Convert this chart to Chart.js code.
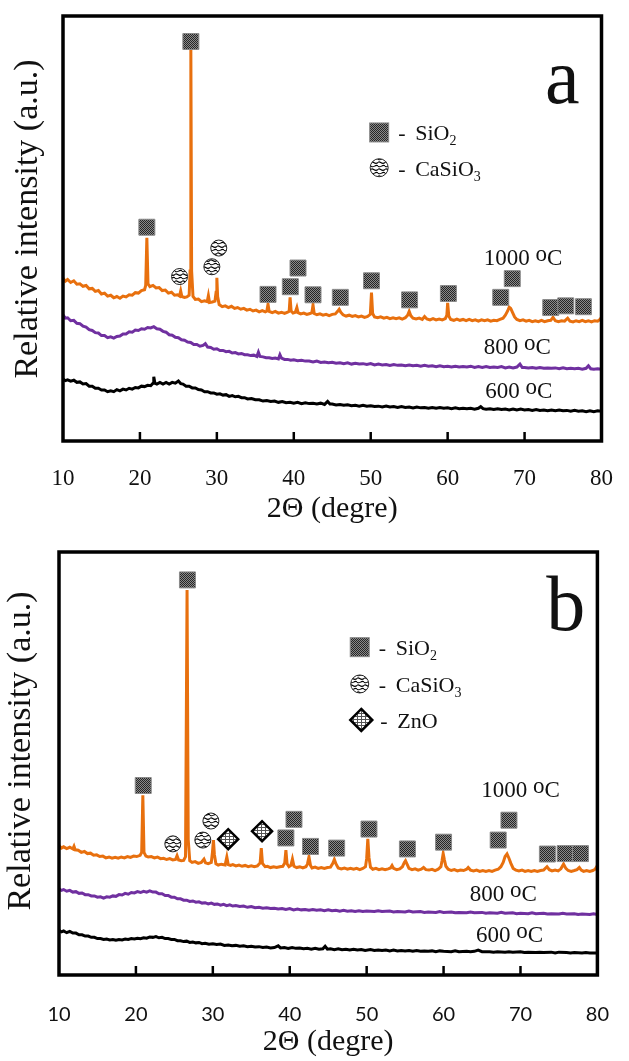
<!DOCTYPE html>
<html>
<head>
<meta charset="utf-8">
<title>XRD patterns</title>
<script src="https://cdn.jsdelivr.net/npm/chart.js@4.4.1/dist/chart.umd.min.js"></script>
<style>
  html, body { margin: 0; padding: 0; background: #fff; }
  canvas { display: block; }
</style>
</head>
<body>
<canvas id="xrdA" width="629" height="530"></canvas>
<canvas id="xrdB" width="629" height="531"></canvas>
<script>
// 2θ (deg), relative intensity (% of plot height)
const a1000 = [[10,38.3],[10.3,37.6],[10.6,38.0],[11,37.3],[11.4,37.7],[11.8,36.9],[12.2,37.0],[12.6,36.4],[13,36.6],[13.4,35.8],[13.8,35.9],[14.2,35.2],[14.6,35.4],[15,34.6],[15.4,34.8],[15.8,34.1],[16.2,34.3],[16.6,33.7],[17,34.0],[17.4,33.6],[17.8,34.1],[18.2,33.9],[18.6,34.4],[19,34.3],[19.4,34.9],[19.8,34.8],[20.2,35.4],[20.6,35.6],[20.75,36.6],[20.9,47.8],[21.05,37.0],[21.3,36.3],[21.7,36.6],[22.1,36.0],[22.5,36.1],[22.9,35.4],[23.3,35.5],[23.7,34.8],[24.1,35.0],[24.5,34.3],[24.9,34.4],[25.15,34.1],[25.3,35.3],[25.45,34.0],[25.8,33.8],[26.1,33.9],[26.4,34.3],[26.52,40],[26.62,92.2],[26.72,40],[26.9,34.0],[27.2,33.3],[27.6,33.4],[28,32.8],[28.4,33.0],[28.75,32.8],[28.9,34.2],[29.05,32.6],[29.4,32.7],[29.75,32.9],[29.9,35],[30.0,38.4],[30.1,34],[30.3,32.1],[30.7,31.6],[31.1,31.8],[31.5,31.4],[31.9,31.7],[32.3,31.2],[32.7,31.4],[33.1,31.0],[33.5,31.2],[33.9,30.8],[34.3,31.0],[34.7,30.6],[35.1,30.8],[35.5,30.4],[35.9,30.7],[36.3,30.4],[36.5,30.6],[36.65,32.2],[36.8,30.5],[37.2,30.2],[37.6,30.5],[38,30.1],[38.4,30.3],[38.8,30.0],[39.2,30.3],[39.4,30.5],[39.52,33.8],[39.65,30.6],[39.9,30.1],[40.2,30.3],[40.4,31.4],[40.55,30.2],[40.9,29.9],[41.3,30.1],[41.7,29.8],[42.1,30.0],[42.35,30.2],[42.5,32.0],[42.65,30.0],[43,29.7],[43.4,29.9],[43.8,29.6],[44.2,29.8],[44.6,29.5],[45,29.8],[45.4,29.9],[45.7,30.5],[45.9,31.0],[46.1,30.3],[46.4,29.7],[46.8,29.4],[47.2,29.6],[47.6,29.3],[48,29.5],[48.4,29.2],[48.8,29.4],[49.2,29.1],[49.6,29.3],[49.95,29.8],[50.1,34.9],[50.25,30.0],[50.5,29.2],[50.9,29.0],[51.3,29.2],[51.7,28.9],[52.1,29.1],[52.5,28.8],[52.9,29.0],[53.3,28.8],[53.7,29.0],[54.1,28.7],[54.5,29.0],[54.8,29.6],[55.0,30.5],[55.2,29.5],[55.5,28.9],[55.9,28.7],[56.3,28.9],[56.7,28.6],[57.0,29.3],[57.3,28.7],[57.7,28.5],[58.1,28.8],[58.5,28.5],[58.9,28.7],[59.3,28.5],[59.7,28.8],[59.9,29.6],[60.0,32.5],[60.15,29.4],[60.4,28.6],[60.8,28.4],[61.2,28.7],[61.6,28.4],[62,28.6],[62.4,28.3],[62.8,28.6],[63.2,28.3],[63.6,28.5],[64,28.2],[64.4,28.5],[64.8,28.3],[65.2,28.5],[65.6,28.2],[66,28.4],[66.4,28.3],[66.8,28.6],[67.2,28.9],[67.5,29.6],[67.8,30.6],[68.0,31.5],[68.2,31.2],[68.4,30.4],[68.7,29.2],[69,28.6],[69.4,28.3],[69.8,28.5],[70.2,28.2],[70.6,28.4],[71,28.1],[71.4,28.3],[71.8,28.1],[72.2,28.4],[72.6,28.1],[73,28.3],[73.4,28.4],[73.7,29.1],[74,28.3],[74.4,28.1],[74.8,28.3],[75.2,28.2],[75.6,28.9],[75.9,28.2],[76.3,28.0],[76.7,28.3],[77.1,28.1],[77.5,28.4],[77.9,28.1],[78.3,28.3],[78.7,28.0],[79.1,28.3],[79.5,28.2],[79.8,28.6],[80,29.1]];
const a800 = [[10,29.7],[10.3,28.9],[10.6,29.0],[11,28.3],[11.4,28.4],[11.8,27.7],[12.2,27.6],[12.6,27.0],[13,26.8],[13.4,26.2],[13.8,26.0],[14.2,25.5],[14.6,25.4],[15,24.8],[15.4,24.8],[15.8,24.3],[16.2,24.5],[16.6,24.2],[17,24.6],[17.4,24.7],[17.8,25.2],[18.2,25.2],[18.6,25.7],[19,25.6],[19.4,26.1],[19.8,26.0],[20.2,26.4],[20.6,26.3],[21,26.7],[21.4,26.6],[21.8,26.9],[22.2,26.4],[22.6,26.3],[23,25.8],[23.4,25.6],[23.8,25.0],[24.2,24.9],[24.6,24.4],[25,24.3],[25.4,23.8],[25.8,23.7],[26.2,23.3],[26.6,23.2],[27,22.7],[27.4,22.7],[27.8,22.3],[28.2,22.5],[28.5,22.9],[28.8,22.1],[29.2,22.0],[29.6,21.6],[30,21.7],[30.4,21.3],[30.8,21.3],[31.2,21.0],[31.6,21.1],[32,20.7],[32.4,20.8],[32.8,20.5],[33.2,20.6],[33.6,20.3],[34,20.3],[34.4,20.1],[34.8,20.2],[35.2,19.9],[35.4,20.9],[35.6,19.9],[36,19.8],[36.4,19.6],[36.8,19.6],[37.2,19.4],[37.6,19.5],[38,19.3],[38.2,20.3],[38.4,19.5],[38.8,19.2],[39.2,19.2],[39.6,19.0],[40,19.1],[40.5,18.9],[41,19.0],[41.5,18.8],[42,18.8],[42.5,18.6],[43,18.8],[43.5,18.5],[44,18.6],[44.5,18.4],[45,18.5],[45.5,18.3],[46,18.4],[46.5,18.2],[47,18.4],[47.5,18.1],[48,18.3],[48.5,18.1],[49,18.2],[49.5,18.0],[50,18.2],[50.5,17.9],[51,18.1],[51.5,17.9],[52,18.0],[52.5,17.8],[53,18.0],[53.5,17.8],[54,17.9],[54.5,17.7],[55,17.9],[55.5,17.7],[56,17.8],[56.5,17.6],[57,17.8],[57.5,17.6],[58,17.7],[58.5,17.5],[59,17.7],[59.5,17.5],[60,17.6],[60.5,17.4],[61,17.6],[61.5,17.4],[62,17.5],[62.5,17.4],[63,17.6],[63.5,17.3],[64,17.5],[64.5,17.3],[65,17.5],[65.5,17.3],[66,17.4],[66.5,17.3],[67,17.5],[67.5,17.2],[68,17.4],[68.5,17.2],[69,17.4],[69.4,18.1],[69.7,17.3],[70,17.3],[70.5,17.2],[71,17.3],[71.5,17.1],[72,17.3],[72.5,17.1],[73,17.2],[73.5,17.1],[74,17.2],[74.5,17.0],[75,17.2],[75.5,17.0],[76,17.1],[76.5,17.0],[77,17.1],[77.5,16.9],[78,17.1],[78.3,17.7],[78.6,17.0],[79,16.9],[79.5,17.0],[80,16.9]];
const a600 = [[10,14.6],[10.3,14.2],[10.6,14.4],[11,14.1],[11.4,14.3],[11.8,13.8],[12.2,13.9],[12.6,13.4],[13,13.5],[13.4,12.9],[13.8,12.9],[14.2,12.4],[14.6,12.4],[15,12.0],[15.4,12.0],[15.8,11.6],[16.2,11.8],[16.6,11.6],[17,12.1],[17.4,11.8],[17.8,12.2],[18.2,12.0],[18.6,12.4],[19,12.2],[19.4,12.6],[19.8,12.5],[20.2,12.9],[20.6,12.8],[21,13.1],[21.4,13.0],[21.7,13.6],[21.8,15.1],[21.95,13.6],[22.2,13.4],[22.6,13.8],[23,13.4],[23.4,13.8],[23.8,13.4],[24.2,13.8],[24.6,13.6],[25,14.1],[25.3,13.5],[25.6,13.4],[26,12.9],[26.4,12.9],[26.8,12.5],[27.2,12.5],[27.6,12.1],[28,12.0],[28.4,11.6],[28.8,11.6],[29.2,11.3],[29.6,11.3],[30,11.0],[30.4,11.1],[30.8,10.8],[31.2,10.9],[31.6,10.5],[32,10.7],[32.4,10.4],[32.8,10.5],[33.2,10.2],[33.6,10.2],[34,9.9],[34.5,10.0],[35,9.7],[35.5,9.7],[36,9.4],[36.5,9.5],[37,9.3],[37.5,9.4],[38,9.1],[38.5,9.3],[39,9.0],[39.5,9.1],[40,8.9],[40.5,9.1],[41,8.8],[41.5,9.0],[42,8.8],[42.5,8.9],[43,8.7],[43.5,8.9],[44,8.6],[44.4,9.3],[44.7,8.7],[45,8.7],[45.5,8.5],[46,8.6],[46.5,8.4],[47,8.5],[47.5,8.3],[48,8.4],[48.5,8.2],[49,8.4],[49.5,8.2],[50,8.3],[50.5,8.1],[51,8.2],[51.5,8.0],[52,8.2],[52.5,8.0],[53,8.1],[53.5,7.9],[54,8.1],[54.5,7.9],[55,8.0],[55.5,7.8],[56,8.0],[56.5,7.8],[57,7.9],[57.5,7.7],[58,7.9],[58.5,7.7],[59,7.9],[59.5,7.7],[60,7.8],[60.5,7.6],[61,7.8],[61.5,7.6],[62,7.7],[62.5,7.6],[63,7.7],[63.5,7.5],[64,7.7],[64.3,8.1],[64.6,7.6],[65,7.5],[65.5,7.6],[66,7.4],[66.5,7.6],[67,7.4],[67.5,7.5],[68,7.3],[68.5,7.5],[69,7.3],[69.5,7.5],[70,7.3],[70.5,7.4],[71,7.2],[71.5,7.4],[72,7.2],[72.5,7.3],[73,7.1],[73.5,7.3],[74,7.1],[74.5,7.3],[75,7.1],[75.5,7.2],[76,7.0],[76.5,7.2],[77,7.0],[77.5,7.1],[78,6.9],[78.5,7.1],[79,6.9],[79.5,7.1],[80,7.0]];

const b1000 = [[10,30.6],[10.3,30.0],[10.6,30.3],[11,29.9],[11.4,30.2],[11.8,29.8],[11.95,30.4],[12.1,29.6],[12.5,29.5],[12.9,29.0],[13.3,29.2],[13.7,28.7],[14.1,28.8],[14.5,28.3],[14.9,28.4],[15.3,28.0],[15.7,28.1],[16.1,27.7],[16.5,27.9],[16.9,27.6],[17.3,27.8],[17.7,27.6],[18.1,27.9],[18.5,27.7],[18.9,28.0],[19.3,27.8],[19.7,28.1],[20.1,28.0],[20.55,28.3],[20.75,29.0],[20.9,42.5],[21.05,29.0],[21.3,28.1],[21.6,27.9],[22,28.0],[22.4,27.7],[22.8,27.9],[23.2,27.5],[23.6,27.6],[24,27.3],[24.4,27.5],[24.8,27.2],[25.15,27.3],[25.35,28.2],[25.55,27.2],[25.9,27.0],[26.2,27.1],[26.45,28],[26.65,91.0],[26.8,32],[27.0,27.0],[27.3,26.6],[27.7,26.8],[28.1,26.4],[28.5,26.6],[28.85,27.4],[29.05,26.5],[29.4,26.3],[29.8,26.6],[29.95,29],[30.08,31.9],[30.2,28.5],[30.4,26.3],[30.7,26.0],[31.1,26.2],[31.6,26.0],[31.82,27.9],[32.0,26.1],[32.3,25.9],[32.6,26.1],[33,25.8],[33.4,26.0],[33.8,25.7],[34.2,25.9],[34.6,25.6],[35,25.8],[35.4,25.6],[35.8,25.8],[36.15,26.5],[36.3,30.0],[36.45,26.4],[36.8,25.6],[37.1,25.7],[37.5,25.4],[37.9,25.6],[38.3,25.4],[38.7,25.6],[39.1,25.7],[39.35,26.5],[39.5,29.5],[39.65,26.3],[39.9,25.6],[40.15,25.9],[40.35,27.4],[40.55,25.7],[40.9,25.4],[41.3,25.6],[41.7,25.3],[42.1,25.6],[42.3,26.2],[42.5,27.9],[42.7,25.9],[42.9,25.3],[43.3,25.5],[43.7,25.2],[44.1,25.4],[44.5,25.2],[44.9,25.4],[45.3,25.5],[45.6,26.4],[45.8,27.3],[46.0,26.3],[46.3,25.3],[46.7,25.1],[47.1,25.3],[47.5,25.0],[47.9,25.2],[48.3,25.0],[48.7,25.2],[49.1,24.9],[49.5,25.2],[49.85,25.6],[50.0,27.5],[50.15,32.2],[50.3,27.8],[50.5,25.5],[50.8,25.0],[51.2,25.2],[51.6,24.9],[52,25.1],[52.4,24.9],[52.8,25.1],[53.1,25.3],[53.3,25.9],[53.5,25.2],[53.9,24.9],[54.3,25.1],[54.65,25.6],[54.9,26.6],[55.05,27.0],[55.25,26.2],[55.5,25.2],[55.9,24.9],[56.3,25.1],[56.7,24.8],[57.1,25.0],[57.4,25.4],[57.7,24.9],[58.1,24.8],[58.5,25.0],[58.9,24.7],[59.3,25.0],[59.65,25.6],[59.8,27.0],[59.95,28.7],[60.1,27.3],[60.3,25.7],[60.6,25.0],[61,24.7],[61.4,24.9],[61.8,24.6],[62.2,24.8],[62.6,24.7],[63,25.0],[63.2,25.4],[63.5,24.8],[63.9,24.6],[64.3,24.8],[64.7,24.5],[65.1,24.7],[65.5,24.5],[65.9,24.7],[66.3,24.5],[66.7,24.8],[67.1,25.0],[67.45,25.6],[67.75,26.6],[68.0,28.0],[68.25,28.6],[68.5,27.6],[68.75,26.4],[69.05,25.2],[69.4,24.8],[69.8,24.6],[70.2,24.8],[70.6,24.5],[71,24.7],[71.4,24.5],[71.8,24.7],[72.2,24.5],[72.6,24.7],[73,24.8],[73.45,25.6],[73.75,24.9],[74.1,24.6],[74.5,24.8],[74.9,24.6],[75.25,25.1],[75.6,26.2],[75.9,25.2],[76.2,24.7],[76.6,24.5],[77,24.7],[77.35,24.9],[77.65,25.4],[77.9,24.8],[78.2,24.5],[78.6,24.7],[79,24.5],[79.4,24.7],[79.7,25.0],[80,25.9]];
const b800 = [[10,20.4],[10.3,20.0],[10.6,20.2],[11,19.8],[11.4,20.0],[11.8,19.6],[12.2,19.7],[12.6,19.3],[13,19.4],[13.4,19.0],[13.8,19.0],[14.2,18.7],[14.6,18.7],[15,18.4],[15.4,18.5],[15.8,18.2],[16.2,18.5],[16.6,18.4],[17,18.7],[17.4,18.6],[17.8,19.0],[18.2,18.9],[18.6,19.3],[19,19.1],[19.4,19.5],[19.8,19.4],[20.2,19.7],[20.6,19.5],[21,19.8],[21.4,19.6],[21.8,19.9],[22.2,19.6],[22.6,19.6],[23,19.2],[23.4,19.2],[23.8,18.8],[24.2,18.8],[24.6,18.4],[25,18.4],[25.4,18.0],[25.8,18.0],[26.2,17.7],[26.6,17.7],[27,17.4],[27.4,17.5],[27.8,17.2],[28.2,17.3],[28.6,17.0],[29,17.1],[29.4,16.8],[29.8,17.0],[30.2,16.7],[30.6,16.8],[31,16.5],[31.4,16.7],[31.8,16.4],[32.2,16.6],[32.6,16.3],[33,16.4],[33.5,16.2],[34,16.3],[34.5,16.0],[35,16.2],[35.5,15.9],[36,16.0],[36.5,15.8],[37,15.9],[37.5,15.7],[38,15.8],[38.5,15.6],[39,15.7],[39.5,15.5],[40,15.7],[40.5,15.4],[41,15.6],[41.5,15.4],[42,15.5],[42.5,15.3],[43,15.5],[43.5,15.3],[44,15.4],[44.5,15.2],[45,15.4],[45.5,15.2],[46,15.3],[46.5,15.1],[47,15.3],[47.5,15.1],[48,15.2],[48.5,15.0],[49,15.2],[49.5,15.0],[50,15.1],[51,15.0],[51.5,15.2],[52,15.0],[53,15.1],[53.5,14.9],[54,15.0],[55,14.9],[55.5,15.1],[56,14.9],[57,15.0],[57.5,14.8],[58,14.9],[59,14.8],[59.5,15.0],[60,14.8],[61,14.9],[61.5,14.7],[62,14.8],[63,14.7],[63.5,14.9],[64,14.7],[65,14.8],[65.5,14.6],[66,14.7],[67,14.6],[67.5,14.8],[68,14.6],[69,14.7],[69.5,14.5],[70,14.6],[71,14.5],[71.5,14.7],[72,14.5],[73,14.6],[73.5,14.4],[74,14.5],[75,14.4],[75.5,14.6],[76,14.4],[77,14.5],[77.5,14.3],[78,14.4],[79,14.3],[79.5,14.5],[80,14.3]];
const b600 = [[10,10.6],[10.3,10.2],[10.6,10.4],[11,10.0],[11.4,10.3],[11.8,9.9],[12.2,9.9],[12.6,9.5],[13,9.5],[13.4,9.2],[13.8,9.2],[14.2,8.9],[14.6,8.9],[15,8.6],[15.4,8.6],[15.8,8.4],[16.2,8.5],[16.6,8.3],[17,8.4],[17.4,8.2],[17.8,8.4],[18.2,8.3],[18.6,8.5],[19,8.4],[19.4,8.6],[19.8,8.5],[20.2,8.7],[20.6,8.6],[21,8.8],[21.4,8.7],[21.8,9.0],[22.2,8.9],[22.6,9.1],[23,8.8],[23.4,8.9],[23.8,8.6],[24.2,8.6],[24.6,8.4],[25,8.4],[25.4,8.1],[25.8,8.1],[26.2,7.9],[26.6,8.0],[27,7.7],[27.4,7.8],[27.8,7.6],[28.2,7.7],[28.6,7.4],[29,7.5],[29.5,7.3],[30,7.4],[30.5,7.2],[31,7.3],[31.5,7.0],[32,7.1],[32.5,6.9],[33,7.0],[33.5,6.8],[34,6.9],[34.5,6.7],[35,6.8],[35.5,6.6],[36,6.7],[36.5,6.5],[37,6.6],[37.5,6.4],[38,6.5],[38.5,6.9],[38.8,6.4],[39.3,6.5],[39.8,6.3],[40.3,6.5],[40.8,6.3],[41.3,6.4],[41.8,6.2],[42.3,6.3],[42.8,6.1],[43.3,6.3],[43.8,6.1],[44.3,6.2],[44.6,6.8],[44.9,6.1],[45.3,6.2],[45.8,6.0],[46.3,6.2],[46.8,6.0],[47.3,6.1],[47.8,5.9],[48.3,6.1],[48.8,5.9],[49.3,6.0],[49.8,5.8],[50.5,6.0],[51,5.8],[51.5,5.9],[52,5.8],[52.5,5.9],[53,5.7],[53.5,5.9],[54,5.7],[54.5,5.8],[55,5.7],[55.5,5.8],[56,5.6],[56.5,5.8],[57,5.6],[57.5,5.7],[58,5.6],[58.5,5.7],[59,5.5],[59.5,5.7],[60,5.6],[61,5.5],[61.5,5.7],[62,5.5],[63,5.6],[63.5,5.5],[64,5.6],[64.5,5.9],[65,5.5],[66,5.5],[66.5,5.4],[67,5.5],[68,5.4],[68.5,5.5],[69,5.4],[70,5.5],[70.5,5.3],[71,5.4],[72,5.3],[72.5,5.4],[73,5.3],[74,5.4],[74.5,5.2],[75,5.4],[76,5.3],[76.5,5.2],[77,5.3],[78,5.2],[78.5,5.3],[79,5.2],[80,5.2]];

// phase markers: [2θ, height]
const aSiO2 = [[20.9,50.3],[26.62,94.0],[36.65,34.5],[39.55,36.3],[40.55,40.7],[42.5,34.4],[46.05,33.8],[50.1,37.7],[55.05,33.2],[60.1,34.7],[66.9,33.8],[68.4,38.2],[73.4,31.4],[75.35,31.8],[77.65,31.6]];
const aCaSiO3 = [[25.15,38.7],[29.35,41.0],[30.25,45.4]];
const bSiO2 = [[20.95,44.8],[26.7,93.4],[39.5,32.4],[40.55,36.8],[42.7,30.4],[46.1,30.0],[50.3,34.5],[55.3,29.8],[60.0,31.4],[67.1,31.9],[68.5,36.6],[73.5,28.6],[75.8,28.7],[77.8,28.7]];
const bCaSiO3 = [[24.8,31.0],[28.7,31.9],[29.75,36.4]];
const bZnO = [[32.0,32.1],[36.4,34.0]];

const temperatures = ['1000', '800', '600'];
const xTicks = [20, 30, 40, 50, 60, 70];

const ORANGE = '#E8700E', PURPLE = '#7030A0', BLACK = '#000000';
const SERIF = '"Liberation Serif", "Times New Roman", serif';

function tile(w, h, paint) {
  const c = document.createElement('canvas');
  c.width = w; c.height = h;
  const g = c.getContext('2d');
  paint(g);
  return g.createPattern(c, 'repeat');
}
const sio2Fill = tile(2, 2, g => {
  g.fillStyle = '#8a8a8a'; g.fillRect(0, 0, 2, 2);
  g.fillStyle = '#262626'; g.fillRect(0, 0, 1, 1); g.fillRect(1, 1, 1, 1);
});
const casio3Fill = tile(7, 7, g => {
  g.fillStyle = '#fff'; g.fillRect(0, 0, 7, 7);
  g.strokeStyle = '#000'; g.lineWidth = 1.1;
  g.beginPath();
  g.moveTo(0, 1.5); g.bezierCurveTo(2, -1, 3.5, 4.5, 7, 1.5);
  g.moveTo(0, 5); g.bezierCurveTo(2.5, 8, 4.5, 2.5, 7, 5);
  g.stroke();
});
const znoFill = tile(4, 3, g => {
  g.fillStyle = '#fff'; g.fillRect(0, 0, 4, 3);
  g.fillStyle = '#555'; g.fillRect(0, 0, 4, 1); g.fillRect(1, 1, 1, 2);
});

const phaseStyle = {
  sio2:   { pointStyle: 'rect',    radius: 11.3, fill: sio2Fill,   edge: '#8a8a8a', width: 1 },
  casio3: { pointStyle: 'circle',  radius: 8,    fill: casio3Fill, edge: '#222',    width: 1 },
  zno:    { pointStyle: 'rectRot', radius: 10,   fill: znoFill,    edge: '#000',    width: 2.5 }
};

function drawSymbol(ctx, kind, cx, cy) {
  ctx.save();
  if (kind === 'sio2') {
    const s = 19;
    ctx.fillStyle = sio2Fill; ctx.fillRect(cx - s / 2, cy - s / 2, s, s);
    ctx.strokeStyle = '#8a8a8a'; ctx.lineWidth = 1; ctx.strokeRect(cx - s / 2, cy - s / 2, s, s);
  } else if (kind === 'casio3') {
    ctx.beginPath(); ctx.arc(cx, cy, 9, 0, Math.PI * 2);
    ctx.fillStyle = casio3Fill; ctx.fill();
    ctx.strokeStyle = '#222'; ctx.lineWidth = 1; ctx.stroke();
  } else {
    const r = 11;
    ctx.beginPath();
    ctx.moveTo(cx, cy - r); ctx.lineTo(cx + r, cy); ctx.lineTo(cx, cy + r); ctx.lineTo(cx - r, cy); ctx.closePath();
    ctx.fillStyle = znoFill; ctx.fill();
    ctx.strokeStyle = '#000'; ctx.lineWidth = 2.5; ctx.stroke();
  }
  ctx.restore();
}

// text pieces: [text, size, baseline shift]
function drawRuns(ctx, runs, x, y) {
  let cx = x;
  runs.forEach(([t, size, dy]) => {
    ctx.font = size + 'px ' + SERIF;
    ctx.fillText(t, cx, y + dy);
    cx += ctx.measureText(t).width;
  });
}

function decorations(p) {
  return {
    id: 'decor',
    afterDraw(chart) {
      const { ctx, chartArea: a, scales: { x, y } } = chart;
      ctx.save();
      ctx.fillStyle = '#111';
      ctx.textBaseline = 'alphabetic';

      // frame and inward ticks
      ctx.strokeStyle = '#000';
      ctx.lineWidth = 3.5;
      ctx.strokeRect(a.left, a.top, a.right - a.left, a.bottom - a.top);
      ctx.lineWidth = 2.5;
      ctx.beginPath();
      xTicks.forEach(t => {
        const px = x.getPixelForValue(t);
        ctx.moveTo(px, a.bottom);
        ctx.lineTo(px, a.bottom - 9);
      });
      ctx.stroke();

      // y-axis title
      ctx.save();
      ctx.translate(p.yTitle[0], p.yTitle[1]);
      ctx.rotate(-Math.PI / 2);
      ctx.textAlign = 'center';
      ctx.textBaseline = 'middle';
      ctx.font = '34px ' + SERIF;
      ctx.fillText('Relative intensity (a.u.)', 0, 0);
      ctx.restore();

      // temperature of each pattern
      ctx.textAlign = 'left';
      p.tempLabels.forEach(([t, deg, val]) => {
        drawRuns(ctx, [[t + ' ', 23, 0], ['o', 23, -4], ['C', 23, 0]],
          x.getPixelForValue(deg), y.getPixelForValue(val));
      });

      // phase key
      p.key.forEach(([kind, name, sub, deg, val]) => {
        const cx = x.getPixelForValue(deg), cy = y.getPixelForValue(val);
        drawSymbol(ctx, kind, cx, cy);
        drawRuns(ctx, [['-', 22, 0]], cx + 19, cy + 8);
        const runs = [[name, 22, 0]];
        if (sub) runs.push([sub, 14, 5]);
        drawRuns(ctx, runs, cx + 36, cy + 8);
      });

      // panel letter
      ctx.textAlign = 'center';
      ctx.font = '78px ' + SERIF;
      ctx.fillText(p.letter, x.getPixelForValue(p.letterAt[0]), y.getPixelForValue(p.letterAt[1]));
      ctx.restore();
    }
  };
}

function buildPanel(p) {
  const toXY = pts => pts.map(([x, y]) => ({ x, y }));
  const markerSets = p.markers.map(([kind, pts]) => {
    const s = phaseStyle[kind];
    return {
      type: 'scatter', data: toXY(pts), pointStyle: s.pointStyle, pointRadius: s.radius,
      backgroundColor: s.fill, borderColor: s.edge, borderWidth: s.width, clip: false, order: 0
    };
  });
  const curveSets = p.curves.map(([pts, color]) => ({
    type: 'line', data: toXY(pts), borderColor: color, borderWidth: 3,
    pointRadius: 0, tension: 0, fill: false, order: 1
  }));

  new Chart(document.getElementById(p.canvas), {
    type: 'scatter',
    data: { datasets: [...markerSets, ...curveSets] },
    options: {
      responsive: false,
      animation: false,
      events: [],
      layout: { autoPadding: false, padding: { top: p.top, right: p.right, left: 0, bottom: 0 } },
      plugins: { legend: { display: false }, tooltip: { enabled: false } },
      scales: {
        x: {
          type: 'linear', min: 10, max: 80,
          afterFit: s => { s.height = p.xAxisH; },
          grid: { display: false }, border: { display: false },
          ticks: { stepSize: 10, autoSkip: false, maxRotation: 0, padding: p.tickPad, color: '#111', font: p.tickFont },
          title: {
            display: true, text: '2Θ (degre)', color: '#111',
            font: { family: SERIF, size: 30 }, padding: { top: 0, bottom: p.titlePad }
          }
        },
        y: {
          type: 'linear', min: 0, max: 100,
          afterFit: s => { s.width = p.yAxisW; },
          grid: { display: false }, border: { display: false },
          ticks: { display: false }
        }
      }
    },
    plugins: [decorations(p)]
  });
}

buildPanel({
  canvas: 'xrdA', top: 16, right: 13, yAxisW: 63, xAxisH: 89,
  tickFont: { family: SERIF, size: 23 }, tickPad: 16, titlePad: 3,
  yTitle: [28, 219],
  curves: [[a1000, ORANGE], [a800, PURPLE], [a600, BLACK]],
  markers: [['sio2', aSiO2], ['casio3', aCaSiO3]],
  tempLabels: [[temperatures[0], 64.7, 41.4], [temperatures[1], 64.7, 20.5], [temperatures[2], 64.9, 10.1]],
  key: [['sio2', 'SiO', '2', 51.1, 72.6], ['casio3', 'CaSiO', '3', 51.1, 64.3]],
  letter: 'a', letterAt: [74.9, 79.5]
});

buildPanel({
  canvas: 'xrdB', top: 22, right: 17, yAxisW: 59, xAxisH: 86,
  tickFont: { family: 'Lato, "Open Sans", sans-serif', size: 20 }, tickPad: 20, titlePad: 1,
  yTitle: [21, 221],
  curves: [[b1000, ORANGE], [b800, PURPLE], [b600, BLACK]],
  markers: [['sio2', bSiO2], ['casio3', bCaSiO3], ['zno', bZnO]],
  tempLabels: [[temperatures[0], 64.9, 42.1], [temperatures[1], 63.4, 17.4], [temperatures[2], 64.2, 7.7]],
  key: [['sio2', 'SiO', '2', 49.1, 77.5], ['casio3', 'CaSiO', '3', 49.1, 68.8], ['zno', 'ZnO', '', 49.3, 60.3]],
  letter: 'b', letterAt: [75.9, 81.6]
});
</script>
</body>
</html>
